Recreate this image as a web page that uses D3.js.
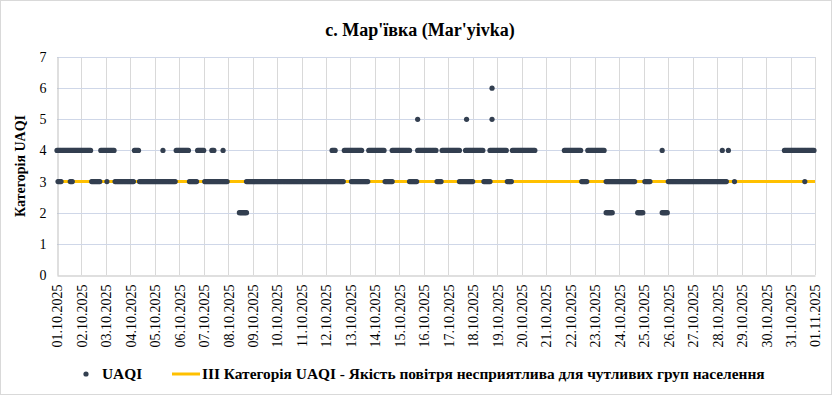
<!DOCTYPE html>
<html>
<head>
<meta charset="utf-8">
<script src="https://cdn.jsdelivr.net/npm/d3@7"></script>
<style>
  body { margin: 0; background: #fff; }
  text { font-family: "Liberation Serif", "Times New Roman", serif; }
</style>
</head>
<body>
<svg id="chart" width="832" height="395"></svg>
<script>
// Hourly UAQI categories, read as runs of hours counted from 01.10.2025 00:00
const cat2Runs = [[179, 186], [539, 545], [570, 575], [594, 599]];
const cat3Runs = [[1, 4], [13, 15], [34, 42], [49, 49], [57, 75], [81, 116], [130, 137], [145, 167],
  [186, 281], [289, 305], [322, 329], [346, 353], [373, 377], [395, 408], [419, 425], [442, 446],
  [515, 520], [539, 567], [577, 582], [600, 657], [665, 665], [734, 734]];
const cat4Runs = [[0, 33], [43, 56], [76, 80], [104, 104], [117, 129], [138, 144], [152, 154], [163, 163],
  [270, 273], [282, 299], [306, 321], [329, 346], [354, 372], [378, 395], [401, 418], [425, 441],
  [447, 469], [498, 514], [521, 537], [594, 594], [653, 653], [659, 659], [714, 743]];
const cat5Runs = [[354, 354], [402, 402], [427, 427]];
const cat6Runs = [[427, 427]];
const thresholdValue = 3;
const yTicks = [0, 1, 2, 3, 4, 5, 6, 7];
const startDate = new Date(Date.UTC(2025, 9, 1));
const endDate = new Date(Date.UTC(2025, 10, 1));

const title = "с. Мар'ївка (Mar'yivka)";
const yTitle = "Категорія UAQI";
const legendPoints = "UAQI";
const legendLine = "III Категорія UAQI - Якість повітря несприятлива для чутливих груп населення";

const points = [];
[[2, cat2Runs], [3, cat3Runs], [4, cat4Runs], [5, cat5Runs], [6, cat6Runs]].forEach(([v, runs]) => {
  runs.forEach(([a, b]) => {
    for (let h = a; h <= b; h++) {
      points.push({ t: new Date(startDate.getTime() + h * 3600000), v: v });
    }
  });
});

const svg = d3.select("#chart");
const plotLeft = 57, plotRight = 815, plotTop = 57, plotBottom = 275;

svg.append("rect")
  .attr("x", 0.5).attr("y", 0.5)
  .attr("width", 831).attr("height", 394)
  .attr("fill", "#fff").attr("stroke", "#d9d9d9");

const x = d3.scaleUtc().domain([startDate, endDate]).range([plotLeft, plotRight]);
const y = d3.scaleLinear().domain([0, 7]).range([plotBottom, plotTop]);
const days = d3.utcDay.range(startDate, d3.utcDay.offset(endDate, 1));

// grid
svg.append("g").selectAll("line")
  .data(days.slice(1))
  .enter().append("line")
  .attr("x1", d => Math.round(x(d)) + 0.5).attr("x2", d => Math.round(x(d)) + 0.5)
  .attr("y1", plotTop).attr("y2", plotBottom)
  .attr("stroke", "#d9d9d9");

svg.append("g").selectAll("line")
  .data(yTicks.slice(1))
  .enter().append("line")
  .attr("x1", plotLeft).attr("x2", plotRight)
  .attr("y1", d => Math.round(y(d)) + 0.5).attr("y2", d => Math.round(y(d)) + 0.5)
  .attr("stroke", "#cfd7e8");

// axes
const yAxis = svg.append("g")
  .attr("transform", `translate(${plotLeft + 0.5},0)`)
  .call(d3.axisLeft(y).tickValues(yTicks).tickFormat(d3.format("d")).tickSize(0).tickPadding(11));
yAxis.select(".domain").attr("stroke", "#bfbfbf");
yAxis.selectAll("text").style("font-size", "14px").attr("fill", "#000");

const xAxis = svg.append("g")
  .attr("transform", `translate(0,${plotBottom + 0.5})`)
  .call(d3.axisBottom(x).tickValues(days).tickSize(0).tickFormat(d3.utcFormat("%d.%m.%Y")));
xAxis.select(".domain").attr("stroke", "#bfbfbf");
xAxis.selectAll("text")
  .attr("transform", "rotate(-90)")
  .attr("x", -9).attr("y", 0).attr("dy", "0.35em")
  .style("text-anchor", "end")
  .style("font-size", "14px")
  .attr("fill", "#000");

// threshold line
svg.append("line")
  .attr("x1", x(startDate)).attr("x2", x(endDate))
  .attr("y1", y(thresholdValue)).attr("y2", y(thresholdValue))
  .attr("stroke", "#ffc000").attr("stroke-width", 3);

// points
svg.append("g").selectAll("circle")
  .data(points)
  .enter().append("circle")
  .attr("cx", d => x(d.t))
  .attr("cy", d => y(d.v))
  .attr("r", 2.6)
  .attr("fill", "#333f50");

// titles
svg.append("text")
  .attr("x", 420).attr("y", 36)
  .attr("text-anchor", "middle")
  .style("font-size", "18px").style("font-weight", "bold")
  .text(title);

svg.append("text")
  .attr("transform", `translate(25,${(plotTop + plotBottom) / 2}) rotate(-90)`)
  .attr("text-anchor", "middle")
  .style("font-size", "14px").style("font-weight", "bold")
  .text(yTitle);

// legend
const lg = svg.append("g");
lg.append("circle").attr("cx", 86).attr("cy", 374).attr("r", 2.6).attr("fill", "#333f50");
lg.append("text").attr("x", 102).attr("y", 379)
  .style("font-size", "15.4px").style("font-weight", "bold").text(legendPoints);
lg.append("line").attr("x1", 172).attr("x2", 200).attr("y1", 374).attr("y2", 374)
  .attr("stroke", "#ffc000").attr("stroke-width", 3);
lg.append("text").attr("x", 202).attr("y", 379)
  .style("font-size", "15.4px").style("font-weight", "bold").text(legendLine);
</script>
</body>
</html>
